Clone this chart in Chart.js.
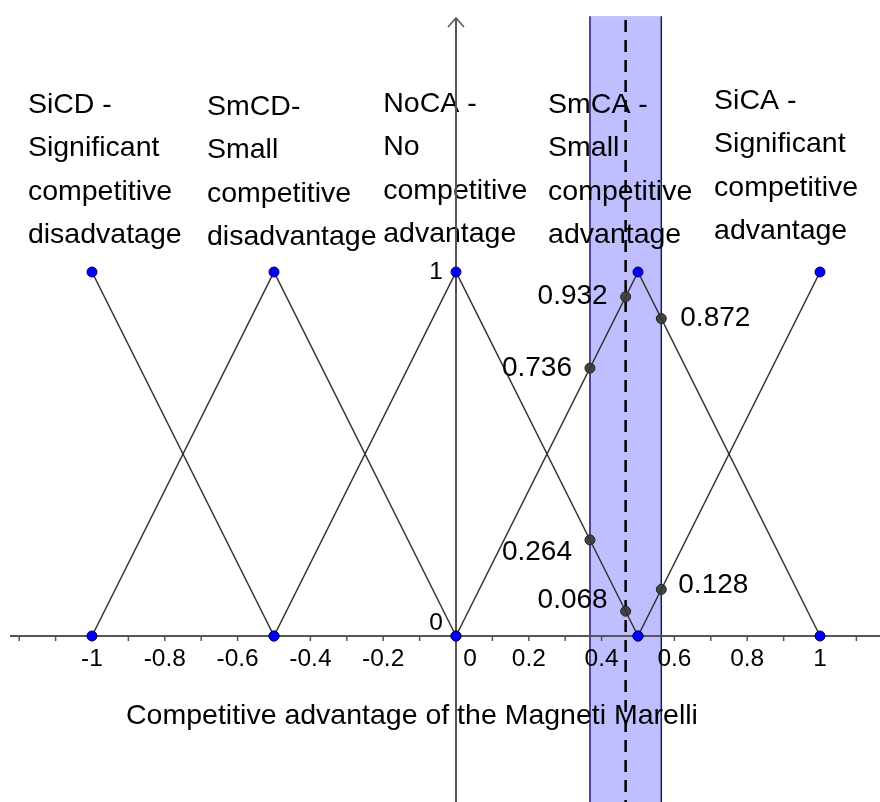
<!DOCTYPE html>
<html>
<head>
<meta charset="utf-8">
<script src="https://cdn.jsdelivr.net/npm/chart.js@4.4.0/dist/chart.umd.min.js"></script>
<style>
  html, body { margin: 0; padding: 0; background: #fff; }
  #wrap { width: 880px; height: 802px; }
</style>
</head>
<body>
<div id="wrap"><canvas id="chart" width="880" height="802"></canvas></div>
<script>
"use strict";

// membership functions (vertices of each triangle)
var categories = ['SiCD', 'SmCD', 'NoCA', 'SmCA', 'SiCA'];
var categoryText = [
    ['SiCD -', 'Significant', 'competitive', 'disadvatage'],
    ['SmCD-', 'Small', 'competitive', 'disadvantage'],
    ['NoCA -', 'No', 'competitive', 'advantage'],
    ['SmCA -', 'Small', 'competitive', 'advantage'],
    ['SiCA -', 'Significant', 'competitive', 'advantage'],
];
var siCD = [{x: -1, y: 1}, {x: -0.5, y: 0}];
var smCD = [{x: -1, y: 0}, {x: -0.5, y: 1}, {x: 0, y: 0}];
var noCA = [{x: -0.5, y: 0}, {x: 0, y: 1}, {x: 0.5, y: 0}];
var smCA = [{x: 0, y: 0}, {x: 0.5, y: 1}, {x: 1, y: 0}];
var siCA = [{x: 0.5, y: 0}, {x: 1, y: 1}];

// evaluated memberships
var evalX = [0.368, 0.368, 0.466, 0.466, 0.564, 0.564];
var evalY = [0.736, 0.264, 0.932, 0.068, 0.872, 0.128];

// shaded interval and the crisp value
var bandRange = [0.368, 0.564];
var crispValue = 0.466;

var xTickValues = [-1, -0.8, -0.6, -0.4, -0.2, 0, 0.2, 0.4, 0.6, 0.8, 1];
var xTickLabels = ['-1', '-0.8', '-0.6', '-0.4', '-0.2', '0', '0.2', '0.4', '0.6', '0.8', '1'];
var yTickValues = [0, 1];
var yTickLabels = ['0', '1'];
var xTitle = 'Competitive advantage of the Magneti Marelli';

var FONT = '"Liberation Sans", Arial, sans-serif';

var evalPoints = evalX.map(function (x, i) {
    return {x: x, y: evalY[i]};
});

// label placement for the evaluated values (pixels from the point)
var evalLabelPos = [
    {dx: -18, dy: 0, align: 'right'},
    {dx: -18, dy: 12, align: 'right'},
    {dx: -18, dy: 0, align: 'right'},
    {dx: -18, dy: -11, align: 'right'},
    {dx: 19, dy: 0, align: 'left'},
    {dx: 17, dy: -4, align: 'left'},
];
var catLabelPos = [
    {x: -1.176, top: 105},
    {x: -0.684, top: 107},
    {x: -0.2, top: 104},
    {x: 0.253, top: 105},
    {x: 0.709, top: 101},
];

function lineSet(label, data) {
    return {
        label: label,
        data: data,
        showLine: true,
        borderColor: '#333',
        borderWidth: 1.5,
        pointRadius: 5,
        pointBorderWidth: 1,
        pointBackgroundColor: '#0000ff',
        pointBorderColor: '#00005a',
        tension: 0,
    };
}

var decorPlugin = {
    id: 'decor',
    beforeDatasetsDraw: function (chart) {
        var ctx = chart.ctx;
        var xs = chart.scales.x;
        var ys = chart.scales.y;
        var x0 = xs.getPixelForValue(0);
        var y0 = ys.getPixelForValue(0);
        var bottom = chart.height;
        ctx.save();

        // shaded band
        var bx1 = xs.getPixelForValue(bandRange[0]);
        var bx2 = xs.getPixelForValue(bandRange[1]);
        var btop = ys.getPixelForValue(1.703);
        ctx.fillStyle = 'rgb(191,191,255)';
        ctx.fillRect(bx1, btop, bx2 - bx1, bottom - btop);
        ctx.strokeStyle = '#1c1c6e';
        ctx.lineWidth = 1.5;
        ctx.beginPath();
        ctx.moveTo(bx1, btop); ctx.lineTo(bx1, bottom);
        ctx.moveTo(bx2, btop); ctx.lineTo(bx2, bottom);
        ctx.stroke();

        // category texts
        ctx.fillStyle = '#000';
        ctx.font = '28.5px ' + FONT;
        ctx.textAlign = 'left';
        ctx.textBaseline = 'middle';
        categoryText.forEach(function (lines, i) {
            var px = xs.getPixelForValue(catLabelPos[i].x);
            lines.forEach(function (t, j) {
                ctx.fillText(t, px, catLabelPos[i].top + j * 43.5);
            });
        });

        // x title
        ctx.textAlign = 'center';
        ctx.fillText(xTitle, xs.getPixelForValue(-0.121), 716);

        // axes
        ctx.strokeStyle = '#555';
        ctx.lineWidth = 2;
        ctx.beginPath();
        ctx.moveTo(10, y0); ctx.lineTo(chart.width, y0);
        ctx.moveTo(x0, bottom); ctx.lineTo(x0, 18);
        ctx.stroke();
        ctx.lineWidth = 1.5;
        ctx.beginPath();
        ctx.moveTo(x0 - 8, 27); ctx.lineTo(x0, 18); ctx.lineTo(x0 + 8, 27);
        ctx.stroke();

        // minor ticks every 0.1
        ctx.lineWidth = 1.5;
        ctx.beginPath();
        for (var k = -12; k <= 11; k++) {
            var tx = xs.getPixelForValue(k / 10);
            ctx.moveTo(tx, y0); ctx.lineTo(tx, y0 + 5);
        }
        ctx.stroke();

        // tick labels
        ctx.fillStyle = '#000';
        ctx.font = '24.5px ' + FONT;
        ctx.textAlign = 'center';
        xTickValues.forEach(function (v, i) {
            var px = xs.getPixelForValue(v);
            if (v === 0) {
                px += 14;
            }
            ctx.fillText(xTickLabels[i], px, y0 + 23);
        });
        ctx.textAlign = 'right';
        yTickValues.forEach(function (v, i) {
            var py = ys.getPixelForValue(v);
            if (v === 0) {
                py -= 13;
            }
            ctx.fillText(yTickLabels[i], x0 - 13, py);
        });

        // crisp value, dashed
        var cx = xs.getPixelForValue(crispValue);
        ctx.strokeStyle = '#000';
        ctx.lineWidth = 2.5;
        ctx.setLineDash([12, 8]);
        ctx.beginPath();
        ctx.moveTo(cx, 20); ctx.lineTo(cx, bottom);
        ctx.stroke();
        ctx.restore();
    },
    afterDatasetsDraw: function (chart) {
        var ctx = chart.ctx;
        var meta = chart.getDatasetMeta(5);
        ctx.save();
        ctx.fillStyle = '#000';
        ctx.font = '28px ' + FONT;
        ctx.textBaseline = 'middle';
        meta.data.forEach(function (pt, i) {
            var pos = evalLabelPos[i];
            ctx.textAlign = pos.align;
            ctx.fillText(evalY[i].toFixed(3), pt.x + pos.dx, pt.y + pos.dy);
        });
        ctx.restore();
    },
};

var config = {
    type: 'scatter',
    data: {
        datasets: [
            lineSet(categories[0], siCD),
            lineSet(categories[1], smCD),
            lineSet(categories[2], noCA),
            lineSet(categories[3], smCA),
            lineSet(categories[4], siCA),
            {
                label: 'membership',
                data: evalPoints,
                showLine: false,
                pointRadius: 5,
                pointBorderWidth: 1,
                pointBackgroundColor: '#444',
                pointBorderColor: '#222',
            },
        ],
    },
    options: {
        responsive: false,
        animation: false,
        layout: {padding: 0, autoPadding: false},
        plugins: {
            legend: {display: false},
            tooltip: {enabled: false},
        },
        scales: {
            x: {type: 'linear', display: false, min: -1.2527, max: 1.1648},
            y: {type: 'linear', display: false, min: -0.456, max: 1.7473},
        },
    },
    plugins: [decorPlugin],
};

new Chart(document.getElementById('chart'), config);
</script>
</body>
</html>
